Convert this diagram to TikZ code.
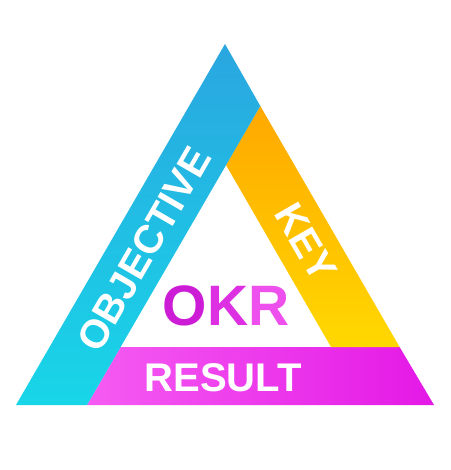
\documentclass[tikz,border=0pt]{standalone}
\usepackage{fontspec}
\setmainfont{Liberation Sans}
\definecolor{bluetop}{HTML}{2AA6E0}
\definecolor{bluebot}{HTML}{18D6E8}
\definecolor{yeltop}{HTML}{FFA800}
\definecolor{yelbot}{HTML}{FFD800}
\definecolor{magleft}{HTML}{F55CF2}
\definecolor{magright}{HTML}{E418E6}
\definecolor{okrA}{HTML}{CC1CD6}
\definecolor{okrB}{HTML}{DD30E2}
\definecolor{okrC}{HTML}{EE50EE}
\begin{document}
\begin{tikzpicture}[x=1pt,y=-1pt,
  bandlabel/.style={text=white,font=\bfseries\fontsize{40}{40}\selectfont,inner sep=0pt},
  biglabel/.style={font=\bfseries\fontsize{57}{57}\selectfont,inner sep=0pt}]
\useasboundingbox[fill=white] (0,0) rectangle (450,470);
% key points
\coordinate (A) at (225,44);
\coordinate (BL) at (16,405);
\coordinate (BR) at (434,405);
\coordinate (P1) at (260.3,106);
\coordinate (P2) at (87,405);
\coordinate (M1) at (120.6,347);
\coordinate (M2) at (399.6,347);
\coordinate (Y3) at (331,347);
\coordinate (Y4) at (226,165);
% bands
\shade[left color=magleft,right color=magright] (M1) -- (M2) -- (BR) -- (P2) -- cycle;
\shade[top color=yeltop,bottom color=yelbot] (P1) -- (M2) -- (Y3) -- (Y4) -- cycle;
\shade[top color=bluetop,bottom color=bluebot] (A) -- (P1) -- (P2) -- (BL) -- cycle;
% labels
\node[bandlabel,rotate=60] (obj) at (144,249) {OBJECTIVE};
\node[bandlabel,rotate=-60] (key) at (306,242) {KEY};
\node[bandlabel] (res) at (223,378) {RESULT};
\node[biglabel] (okr) at (226,306) {\textcolor{okrA}{O}\textcolor{okrB}{K}\textcolor{okrC}{R}};
\end{tikzpicture}
\end{document}
